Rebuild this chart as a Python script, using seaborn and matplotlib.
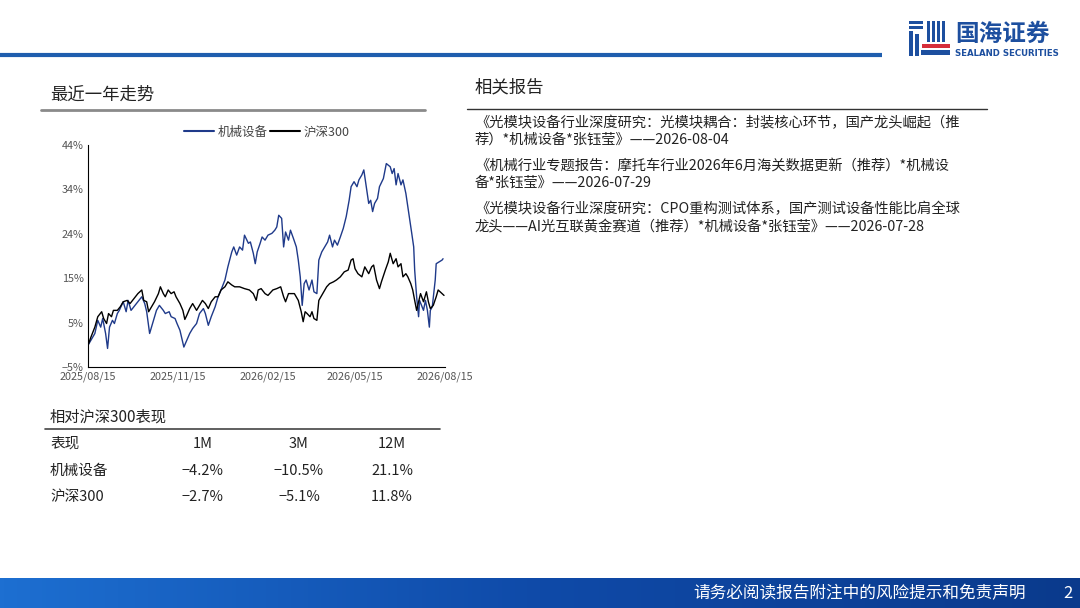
import numpy as np
import pandas as pd
import matplotlib
matplotlib.use('Agg')
import matplotlib.pyplot as plt
import matplotlib.patches as mpatches
import seaborn as sns

sns.set_style('white')
plt.rcParams['font.family'] = ['Noto Sans CJK SC', 'DejaVu Sans']
plt.rcParams['axes.unicode_minus'] = True

# ---- data: days after 2025-08-15 and cumulative return (%) ----
start = pd.Timestamp('2025-08-15')

mach_days = [0, 3, 7, 10, 13, 15, 18, 20, 22, 25, 27, 30, 32, 36, 39, 41, 44, 48, 51, 55,
             58, 60, 63, 67, 70, 73, 77, 79, 83, 85, 89, 91, 94, 98, 101, 104, 107, 111, 114, 118,
             120, 123, 126, 130, 133, 136, 140, 143, 147, 149, 152, 155, 158, 160, 164, 166, 169, 171, 173, 176,
             178, 181, 184, 188, 191, 193, 195, 198, 200, 202, 205, 207, 210, 213, 215, 217, 219, 221, 223, 226,
             229, 231, 234, 236, 239, 242, 245, 247, 250, 252, 255, 258, 261, 264, 267, 269, 272, 275, 277, 280,
             282, 285, 287, 289, 291, 293, 296, 298, 302, 305, 309, 311, 313, 315, 317, 320, 322, 325, 327, 329,
             331, 333, 334, 336, 338, 339, 341, 343, 345, 347, 349, 350, 352, 355, 356, 359, 362, 363]
mach_vals = [-0.2, 0.9, 2.4, 5.3, 3.8, 5.7, 2.4, -0.9, 3.8, 5.3, 4.6, 6.8, 7.5, 9.4, 7.2, 9.7, 7.5, 8.6, 9.4, 10.5,
             9.0, 7.2, 2.4, 5.3, 7.5, 8.6, 7.5, 6.8, 7.2, 6.1, 5.7, 4.6, 3.1, -0.6, 0.9, 2.4, 3.5, 4.6, 6.8, 7.9,
             6.8, 4.2, 6.1, 8.3, 10.5, 12.0, 14.2, 17.1, 20.4, 21.5, 19.7, 21.5, 20.8, 24.1, 22.3, 22.6, 20.1, 17.8, 20.4, 22.3,
             23.7, 23.0, 24.1, 24.5, 25.2, 25.9, 28.5, 27.8, 21.5, 24.8, 23.0, 25.2, 23.4, 21.5, 18.6, 14.9, 8.6, 13.4, 14.2, 12.0,
             14.2, 11.6, 11.2, 18.6, 20.4, 21.5, 22.6, 24.1, 21.5, 23.0, 21.9, 23.7, 25.6, 28.2, 31.8, 34.8, 35.9, 34.8, 36.3, 37.4,
             38.5, 34.1, 31.1, 31.8, 29.3, 31.1, 32.2, 34.8, 36.6, 39.9, 39.2, 37.7, 38.8, 35.2, 37.7, 35.2, 36.3, 33.3, 30.4, 27.4,
             24.5, 21.5, 16.4, 10.5, 6.1, 9.7, 8.6, 7.5, 9.7, 7.5, 3.8, 7.5, 8.3, 14.2, 17.8, 18.2, 18.6, 18.9]

hs300_days = [0, 3, 7, 10, 14, 16, 19, 21, 24, 26, 30, 33, 36, 40, 43, 47, 51, 55, 57, 60,
              62, 65, 68, 72, 74, 77, 79, 82, 85, 88, 90, 94, 97, 99, 101, 104, 107, 111, 114, 117,
              120, 123, 126, 130, 133, 136, 140, 143, 147, 150, 155, 160, 165, 169, 172, 174, 177, 181, 184, 189,
              193, 197, 200, 202, 205, 208, 211, 215, 218, 220, 222, 224, 227, 229, 231, 234, 236, 240, 244, 247,
              251, 254, 258, 262, 266, 269, 271, 273, 276, 280, 283, 287, 290, 292, 295, 298, 300, 304, 307, 309,
              312, 315, 317, 320, 322, 325, 327, 330, 332, 334, 336, 338, 340, 343, 346, 348, 350, 353, 356, 358,
              362, 364]
hs300_vals = [-0.2, 1.6, 3.8, 6.1, 7.2, 5.7, 4.6, 6.8, 6.1, 7.5, 7.5, 8.3, 9.4, 9.7, 9.0, 10.1, 11.2, 12.0, 9.7, 9.4,
              7.2, 8.3, 9.4, 11.2, 12.7, 11.2, 10.5, 12.0, 11.2, 11.6, 10.5, 9.0, 7.5, 5.5, 6.4, 7.9, 9.0, 7.5, 8.6, 9.7,
              9.0, 7.9, 9.4, 10.5, 10.5, 12.0, 12.7, 13.8, 13.1, 12.7, 12.7, 12.3, 12.0, 11.2, 9.7, 12.0, 12.3, 11.2, 10.8, 12.0,
              12.3, 12.7, 10.5, 9.4, 11.2, 11.2, 11.2, 9.7, 7.2, 5.0, 7.2, 6.8, 6.1, 7.2, 5.7, 5.3, 9.7, 11.2, 12.7, 13.4,
              13.8, 14.2, 14.9, 16.0, 16.4, 18.6, 18.9, 16.7, 15.6, 14.9, 17.1, 15.6, 17.1, 17.5, 14.2, 12.3, 13.8, 16.4, 18.2, 20.1,
              17.8, 18.9, 17.1, 17.8, 14.9, 15.6, 14.9, 13.4, 12.0, 9.7, 7.5, 9.4, 11.2, 9.4, 11.6, 9.4, 7.9, 8.6, 10.5, 12.0,
              11.2, 10.8]

series_names = ['机械设备', '沪深300']
series_colors = ['#1f3a8a', '#000000']

x_ticks = ['2025-08-15', '2025-11-15', '2026-02-15', '2026-05-15', '2026-08-15']
x_tick_labels = ['2025/08/15', '2025/11/15', '2026/02/15', '2026/05/15', '2026/08/15']
y_ticks = [-5, 4.8, 14.6, 24.4, 34.2, 44]
y_tick_labels = ['\u22125%', '5%', '15%', '24%', '34%', '44%']

table_cols = ['表现', '1M', '3M', '12M']
table_rows = ['机械设备', '沪深300']
table_vals = [['\u22124.2%', '\u221210.5%', '21.1%'],
              ['\u22122.7%', '\u22125.1%', '11.8%']]

reports = [
    ['《光模块设备行业深度研究：光模块耦合：封装核心环节，国产龙头崛起（推',
     '荐）*机械设备*张钰莹》——2026-08-04'],
    ['《机械行业专题报告：摩托车行业2026年6月海关数据更新（推荐）*机械设',
     '备*张钰莹》——2026-07-29'],
    ['《光模块设备行业深度研究：CPO重构测试体系，国产测试设备性能比肩全球',
     '龙头——AI光互联黄金赛道（推荐）*机械设备*张钰莹》——2026-07-28'],
]

df = pd.concat([
    pd.DataFrame({'date': start + pd.to_timedelta(mach_days, unit='D'),
                  'value': mach_vals, 'series': series_names[0]}),
    pd.DataFrame({'date': start + pd.to_timedelta(hs300_days, unit='D'),
                  'value': hs300_vals, 'series': series_names[1]}),
])

fig = plt.figure(figsize=(10.8, 6.08), dpi=100)

# background / decoration layer in pixel coordinates
deco = fig.add_axes([0, 0, 1, 1], zorder=0)
deco.set_xlim(0, 1080)
deco.set_ylim(608, 0)
deco.axis('off')

# top rule
deco.plot([0, 882], [55, 55], color='#1f5eae', lw=3, solid_capstyle='butt')

# logo
logo_blue = '#1d4f9f'
for (x0, y0, w, h) in [(909, 21, 14, 3), (909, 26, 14, 3), (909, 31, 4, 25), (915, 34, 4, 22),
                       (927, 21, 3, 21), (932, 21, 3, 21), (937, 21, 3, 21), (942, 21, 3, 21),
                       (921, 50, 29, 5)]:
    deco.add_patch(mpatches.Rectangle((x0, y0), w, h, color=logo_blue, lw=0))
deco.add_patch(mpatches.Rectangle((922, 44), 28, 4, color='#d62d3a', lw=0))
deco.text(955, 34, '国海证券', fontsize=17, color=logo_blue, fontweight='bold', va='center', ha='left')
deco.text(955, 54, 'SEALAND SECURITIES', fontsize=6.2, color=logo_blue, fontweight='bold',
          va='center', ha='left', family=['DejaVu Sans'])

# section titles
deco.text(50, 95, '最近一年走势', fontsize=12.5, color='#222222', va='center', ha='left')
deco.plot([41, 425], [110, 110], color='#8a8a8a', lw=2)
deco.text(475, 87, '相关报告', fontsize=12.5, color='#222222', va='center', ha='left')
deco.plot([467, 987], [109, 109], color='#333333', lw=1)

report_y = [[123, 140], [166, 183], [209, 226]]
for lines, ys in zip(reports, report_y):
    for line, yy in zip(lines, ys):
        deco.text(475, yy, line, fontsize=10.3, color='#222222', va='center', ha='left')

# relative table
deco.text(50, 417, '相对沪深300表现', fontsize=11, color='#222222', va='center', ha='left')
deco.plot([45, 440], [429, 429], color='#444444', lw=1.2)
col_x = [50, 203, 299, 392]
deco.text(col_x[0], 444, table_cols[0], fontsize=10.5, color='#222222', va='center', ha='left')
for cx, c in zip(col_x[1:], table_cols[1:]):
    deco.text(cx, 444, c, fontsize=10.5, color='#222222', va='center', ha='center')
for ry, name, vals in zip([471, 497], table_rows, table_vals):
    deco.text(col_x[0], ry, name, fontsize=10.5, color='#222222', va='center', ha='left')
    for cx, v in zip(col_x[1:], vals):
        deco.text(cx, ry, v, fontsize=10.5, color='#222222', va='center', ha='center')

# footer band with gradient
grad = np.linspace(0, 1, 256).reshape(1, -1)
cmap = matplotlib.colors.LinearSegmentedColormap.from_list('band', ['#1d6fd1', '#0f4aa8', '#0a3a8c'])
deco.imshow(grad, extent=[0, 1080, 608, 578], cmap=cmap, aspect='auto', zorder=1)
deco.set_xlim(0, 1080)
deco.set_ylim(608, 0)
deco.text(860, 594, '请务必阅读报告附注中的风险提示和免责声明', fontsize=12, color='white',
          va='center', ha='center', zorder=2)
deco.text(1068, 594, '2', fontsize=12, color='white', va='center', ha='center', zorder=2)

# line chart
ax = fig.add_axes([88 / 1080, 1 - 367 / 608, (445 - 88) / 1080, (367 - 145) / 608], zorder=2)
ax.patch.set_alpha(0)
sns.lineplot(data=df, x='date', y='value', hue='series', palette=series_colors,
             hue_order=series_names, linewidth=1.0, ax=ax, legend=False)
ax.set_xlim(pd.Timestamp(x_ticks[0]), pd.Timestamp(x_ticks[-1]))
ax.set_ylim(y_ticks[0], y_ticks[-1])
ax.set_xticks(pd.to_datetime(x_ticks))
ax.set_xticklabels(x_tick_labels)
ax.set_yticks(y_ticks)
ax.set_yticklabels(y_tick_labels)
ax.set_xlabel('')
ax.set_ylabel('')
for s in ['top', 'right']:
    ax.spines[s].set_visible(False)
for s in ['left', 'bottom']:
    ax.spines[s].set_color('#000000')
    ax.spines[s].set_linewidth(0.8)
ax.tick_params(axis='both', direction='in', length=3, width=0.8, labelsize=7.8,
               labelcolor='#555555', color='#000000', pad=3)

handles = [plt.Line2D([], [], color=c, lw=1.5) for c in series_colors]
ax.legend(handles, series_names, loc='lower center', bbox_to_anchor=(0.5, 1.0), ncol=2,
          frameon=False, fontsize=9, handlelength=2.4, handletextpad=0.3, columnspacing=0.2,
          labelcolor='#444444', borderaxespad=0.1)

fig.savefig('out.png', dpi=100)
